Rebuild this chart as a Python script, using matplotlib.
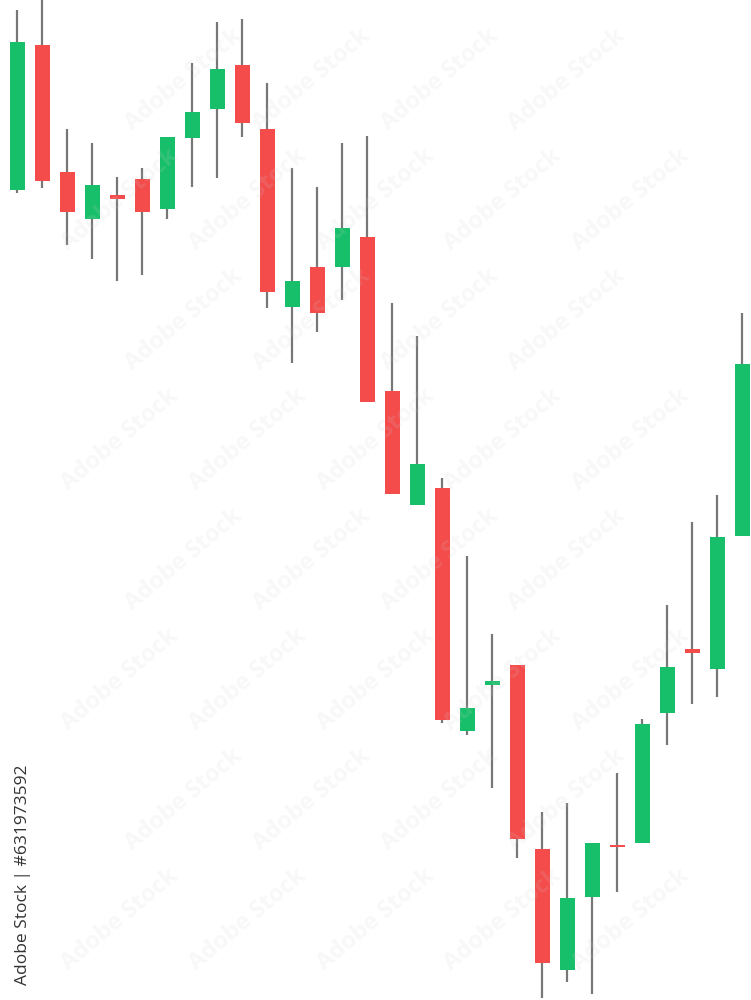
import matplotlib.pyplot as plt
from matplotlib.patches import Rectangle

# price levels (higher = further up)
opens = [810, 955, 828, 781, 805, 821, 791, 862, 891, 935,
         871, 693, 733, 733, 763, 609, 495, 512, 269, 315,
         335, 151, 30, 103, 155, 157, 287, 351, 331, 464]
closes = [958, 819, 788, 815, 801, 788, 863, 888, 931, 877,
          708, 719, 687, 772, 598, 506, 536, 280, 292, 319,
          161, 37, 102, 157, 153, 276, 333, 347, 463, 636]
highs = [990, 1000, 871, 857, 823, 832, 863, 937, 978, 981,
         917, 832, 813, 857, 864, 697, 664, 522, 444, 366,
         335, 188, 197, 157, 227, 281, 395, 478, 505, 687]
lows = [807, 812, 755, 741, 719, 725, 781, 813, 822, 863,
        692, 637, 668, 700, 598, 506, 495, 277, 265, 212,
        142, 2, 18, 6, 108, 157, 255, 296, 303, 464]

green = '#18BF6A'
red = '#F44B4B'

def candles(ax):
	for i in range(len(closes)):
		o, c, h, l = opens[i], closes[i], highs[i], lows[i]
		ax.plot([i, i], [l, h], color='#777777', lw=1.6, zorder=1, solid_capstyle='butt')
		col = green if c > o else red
		bottom = min(o, c)
		height = max(abs(c - o), 2)
		ax.add_patch(Rectangle((i - 0.3, bottom), 0.6, height, facecolor=col, edgecolor='none', zorder=2))

fig = plt.figure(figsize=(7.51, 10), dpi=100)
ax = fig.add_axes([0, 0, 1, 1])
candles(ax)
ax.set_xlim(-0.68, 29.36)
ax.set_ylim(0, 1000)
ax.axis('off')

# faint tiled watermark (only tiles that sit fully inside the picture)
for row in range(0, 8):
	for col in range(0, 6):
		x = 0.16 + col * 0.17 + (row % 2) * 0.085
		y = 0.08 + row * 0.12
		if x > 0.88:
			continue
		fig.text(x, y, 'Adobe Stock', rotation=40, fontsize=17, color='#d0d0d0',
			alpha=0.15, family='Open Sans', fontweight='bold', ha='center', va='center', zorder=5)

fig.text(0.03, 0.125, 'Adobe Stock | #631973592', rotation=90, fontsize=12.5,
	color='#333333', family='Open Sans', ha='center', va='center')

plt.savefig('out.png', dpi=100)
